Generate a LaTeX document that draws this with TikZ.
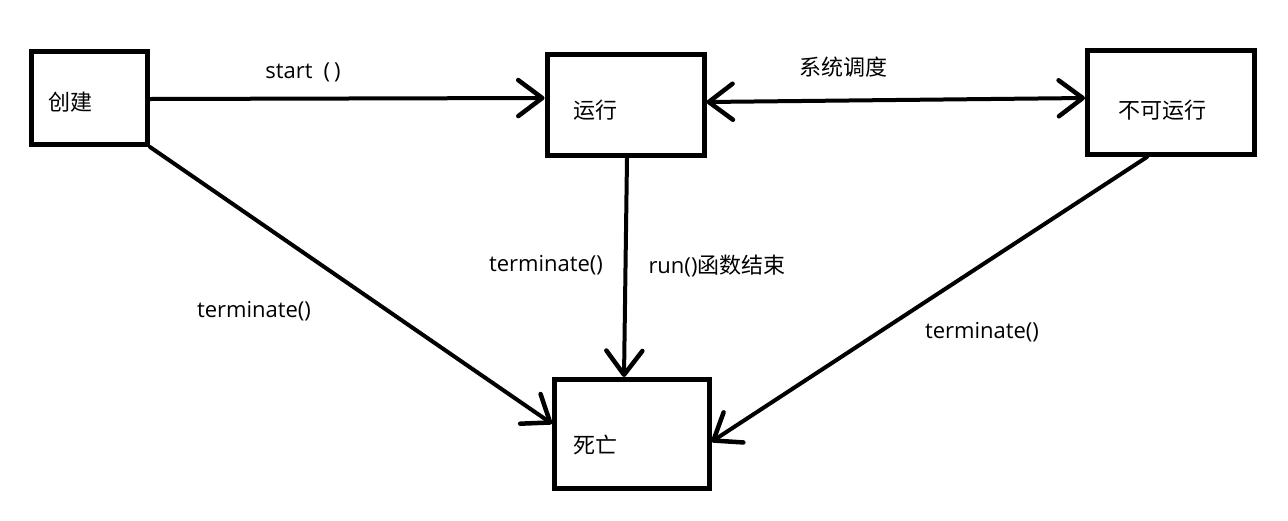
\documentclass[tikz,border=0pt]{standalone}
\usepackage{fontspec}
\setmainfont{Open Sans}
\newfontfamily\cjk{Noto Sans CJK SC}
\usetikzlibrary{arrows.meta}
\begin{document}
\begin{tikzpicture}[x=1pt,y=-1pt,
  box/.style={draw, line width=5pt, inner sep=0pt},
  lbl/.style={font=\fontsize{22}{26}\selectfont, inner sep=0pt, anchor=center},
  tip/.tip={Straight Barb[length=24pt,width=36pt,line width=4.5pt,round]},
  conn/.style={line width=4pt, line cap=round, -tip},
  both/.style={line width=4pt, line cap=round, tip-tip}]
\useasboundingbox (0,0) rectangle (1288,520);
% boxes
\node[box, minimum width=116pt, minimum height=93pt] (create) at (89.5,98) {};
\node[box, minimum width=157pt, minimum height=101pt] (run) at (625.5,105) {};
\node[box, minimum width=167pt, minimum height=104pt] (unrun) at (1171,102.5) {};
\node[box, minimum width=154.5pt, minimum height=108.5pt] (dead) at (631.75,433.75) {};
% box texts
\node[lbl] (tcreate) at (70,102) {\cjk 创建};
\node[lbl] (trun) at (595,110) {\cjk 运行};
\node[lbl] (tunrun) at (1162,110) {\cjk 不可运行};
\node[lbl] (tdead) at (595,445) {\cjk 死亡};
% connectors
\draw[conn] ([yshift=-1pt]create.east) -- ([yshift=7pt]run.west);
\draw[both] ([yshift=3pt]run.east) -- ([yshift=4.5pt]unrun.west);
\draw[conn] ([xshift=1.5pt]run.south) -- ([xshift=-7.75pt]dead.north);
\draw[conn] (create.south east) -- ([yshift=10pt]dead.west);
\draw[conn] ([xshift=-24pt]unrun.south) -- ([yshift=-8pt]dead.east);
% connector labels
\node[lbl] (lstart) at (303,72) {start\hspace{11pt}(\hspace{4pt})};
\node[lbl] (lsched) at (843,67) {\cjk 系统调度};
\node[lbl] (lterm1) at (546,265) {terminate()};
\node[lbl] (lrunend) at (717,266) {run(){\cjk 函数结束}};
\node[lbl] (lterm2) at (254,311) {terminate()};
\node[lbl] (lterm3) at (982,332) {terminate()};
\end{tikzpicture}
\end{document}
